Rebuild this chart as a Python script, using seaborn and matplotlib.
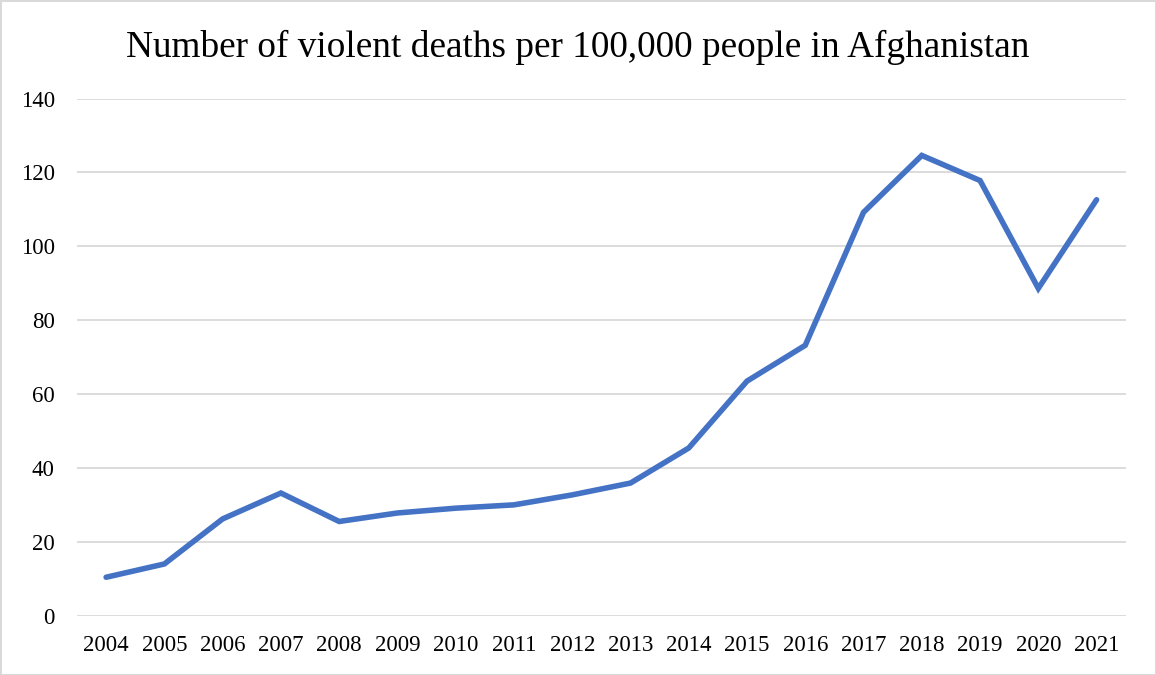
import numpy as np
import pandas as pd
import seaborn as sns
import matplotlib.pyplot as plt

years = ['2004', '2005', '2006', '2007', '2008', '2009', '2010', '2011', '2012',
         '2013', '2014', '2015', '2016', '2017', '2018', '2019', '2020', '2021']
deaths = [10.4, 14.0, 26.2, 33.2, 25.5, 27.8, 29.1, 30.0, 32.7,
          35.9, 45.4, 63.5, 73.2, 109.2, 124.6, 117.8, 88.6, 112.6]
yticks = [0, 20, 40, 60, 80, 100, 120, 140]

df = pd.DataFrame({'year': years, 'deaths': deaths})

sns.set_theme(style='white')
plt.rcParams['font.family'] = ['Liberation Serif', 'DejaVu Serif']

fig = plt.figure(figsize=(11.56, 6.75), dpi=100)
fig.patch.set_edgecolor('#d9d9d9')
fig.patch.set_linewidth(2)
ax = fig.add_axes([0.0666, 0.0879, 0.9072, 0.7661])

sns.lineplot(data=df, x='year', y='deaths', ax=ax, color='#4472C4',
             linewidth=4, sort=False, solid_capstyle='round', solid_joinstyle='miter')

ax.set_xlim(-0.5, len(years) - 0.5)
ax.set_ylim(0, 140)
ax.set_yticks(yticks)
ax.grid(axis='y', color='#d9d9d9', linewidth=1.3)
ax.set_axisbelow(True)
for s in ax.spines.values():
    s.set_visible(False)
ax.tick_params(axis='y', length=0, pad=16, labelsize=16.5, labelcolor='#000000')
ax.tick_params(axis='x', length=0, pad=14, labelsize=16.5, labelcolor='#000000')
ax.set_xlabel('')
ax.set_ylabel('')

fig.text(0.5, 0.915, 'Number of violent deaths per 100,000 people in Afghanistan',
         ha='center', va='baseline', fontsize=26.8, color='#000000')

fig.savefig('out.png', dpi=100, edgecolor=fig.get_edgecolor())
